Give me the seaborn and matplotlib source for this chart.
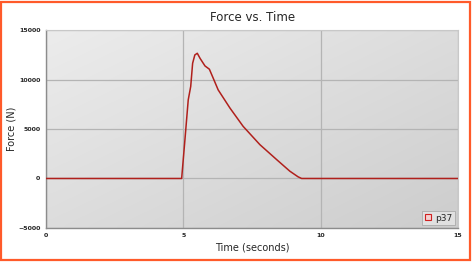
import numpy as np
import pandas as pd
import matplotlib
matplotlib.use('Agg')
import matplotlib.pyplot as plt
import seaborn as sns
from matplotlib.patches import Rectangle
from matplotlib.lines import Line2D

# values
time_s = [0.0, 4.94, 5.06, 5.18, 5.27, 5.34, 5.42, 5.51, 5.61, 5.79, 5.95,
          6.09, 6.27, 6.70, 7.18, 7.79, 8.40, 8.88, 9.18, 9.31, 15.0]
force_n = [0, 0, 3930, 7950, 9300, 11650, 12490, 12660, 12150, 11380, 11050,
           10140, 8960, 7120, 5270, 3420, 1910, 740, 170, 0, 0]
series_name = 'p37'
x_ticks = [0, 5, 10, 15]
y_ticks = [-5000, 0, 5000, 10000, 15000]

df = pd.DataFrame({'Time (seconds)': time_s, 'Force (N)': force_n, 'series': series_name})

sns.set_style('white')
plt.rcParams['font.family'] = ['DejaVu Sans']

fig = plt.figure(figsize=(4.72, 2.62), dpi=100)
ax = fig.add_axes([0.0975, 0.130, 0.8725, 0.755])

# gradient background of the plot area
grad = np.add.outer(np.linspace(0, 1, 50), np.linspace(0, 1, 50)) / 2
ax.imshow(grad, extent=[0, 1, 0, 1], transform=ax.transAxes, aspect='auto',
          cmap=matplotlib.colors.LinearSegmentedColormap.from_list('g', ['#ececec', '#cdcdcd']),
          zorder=0, interpolation='bicubic')

sns.lineplot(data=df, x='Time (seconds)', y='Force (N)', color='#b0201c', lw=1.1,
             ax=ax, legend=False, zorder=3)

ax.set_xlim(0, 15)
ax.set_ylim(-5000, 15000)
ax.set_xticks(x_ticks)
ax.set_yticks(y_ticks)
ax.set_xticks([2.5, 7.5, 12.5], minor=True)
ax.set_yticks([-2500, 2500, 7500, 12500], minor=True)
ax.grid(True, which='major', color='#b4b4b4', lw=0.9, zorder=1)
ax.set_axisbelow(True)
ax.tick_params(which='both', length=2, width=0.6, color='#888888', labelsize=4.5, pad=2)
for lab in ax.get_xticklabels() + ax.get_yticklabels():
    lab.set_fontweight('bold')
for side in ['top', 'right']:
    ax.spines[side].set_color('#c8c8c8')
for side in ['left', 'bottom']:
    ax.spines[side].set_color('#8c8c8c')
    ax.spines[side].set_linewidth(1.0)

ax.set_xlabel('Time (seconds)', fontsize=7, labelpad=3)
ax.set_ylabel('Force (N)', fontsize=7)
ax.yaxis.set_label_coords(-0.072, 0.5)
fig.text(0.535, 0.935, 'Force vs. Time', ha='center', va='center', fontsize=8.5)

handle = Line2D([], [], marker='s', ls='none', markersize=5, markerfacecolor='#f4d0d0',
                markeredgecolor='#d02020', markeredgewidth=0.8)
leg = ax.legend([handle], [series_name], loc='lower right', fontsize=6.5, frameon=True,
                handlelength=0.8, handletextpad=0.4, borderpad=0.3, borderaxespad=0.3,
                fancybox=False)
leg.get_frame().set_facecolor('#e6e6e6')
leg.get_frame().set_edgecolor('#a0a0a0')
leg.get_frame().set_linewidth(0.6)

fig.patches.append(Rectangle((0.003, 0.006), 0.993, 0.988, transform=fig.transFigure,
                             fill=False, edgecolor='#ff5a2a', lw=1.6))

fig.savefig('out.png', dpi=100)
